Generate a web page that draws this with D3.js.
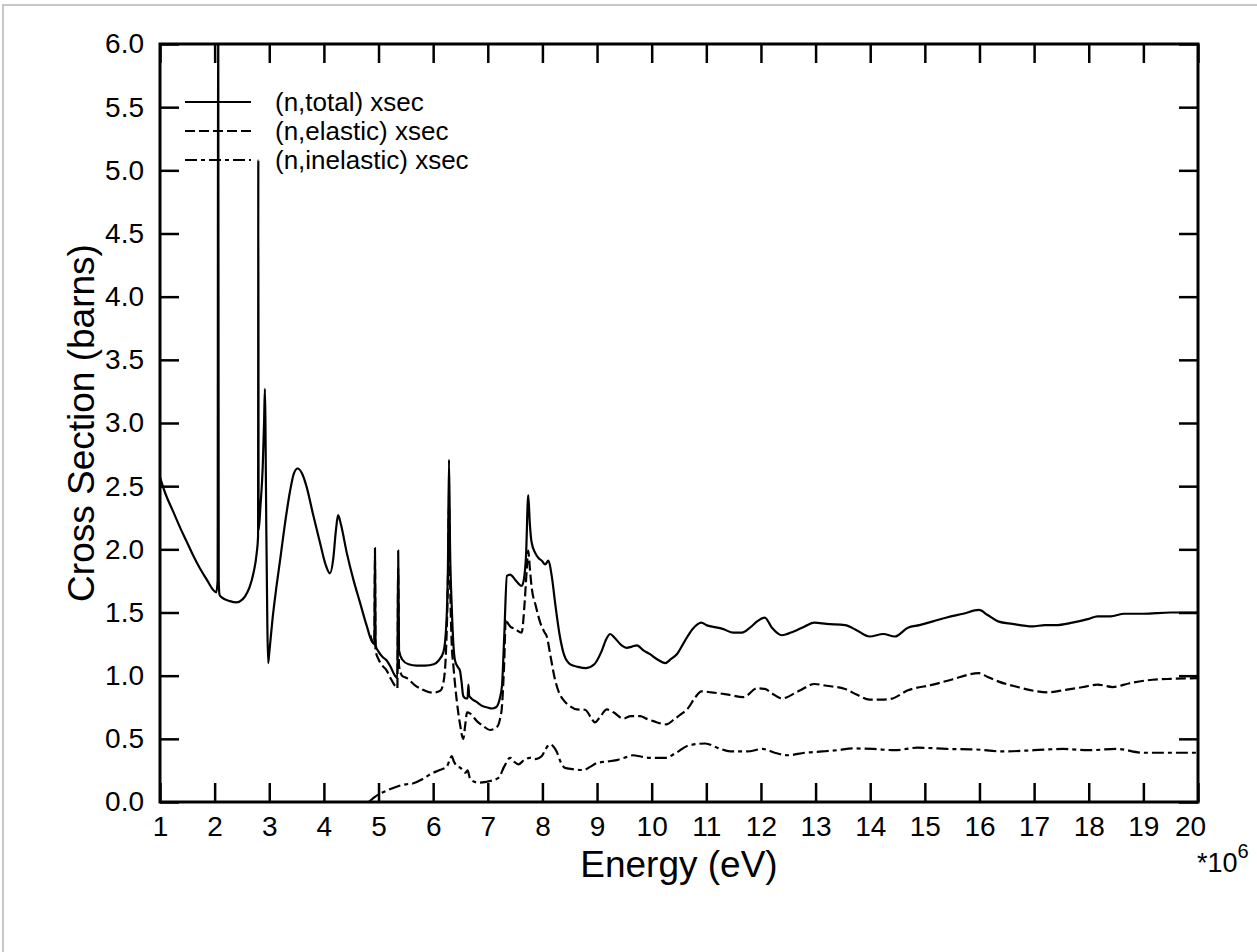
<!DOCTYPE html>
<html>
<head>
<meta charset="utf-8">
<script src="https://cdn.jsdelivr.net/npm/d3@7"></script>
<style>
  html, body { margin: 0; padding: 0; background: #fff; }
  svg { display: block; }
  text { font-family: "Liberation Sans", Arial, Helvetica, sans-serif; fill: #000; }
</style>
</head>
<body>
<svg id="chart" width="1257" height="952"></svg>
<script>
// ---- data (energy in units of 10^6 eV, cross section in barns) ----
const xTicks = [1,2,3,4,5,6,7,8,9,10,11,12,13,14,15,16,17,18,19,20];
const yTicks = [0,0.5,1,1.5,2,2.5,3,3.5,4,4.5,5,5.5,6];
const seriesNames = ["(n,total) xsec", "(n,elastic) xsec", "(n,inelastic) xsec"];

const totalXS = [
 [1.00,2.57],[1.10,2.44],[1.24,2.30],[1.37,2.17],[1.49,2.06],[1.61,1.95],[1.73,1.85],[1.87,1.75],[1.97,1.68],
 [2.03,1.66],[2.055,1.75],[2.065,7.0],[2.075,1.75],[2.09,1.64],[2.13,1.62],[2.28,1.59],[2.40,1.58],[2.50,1.60],
 [2.56,1.63],[2.64,1.70],[2.71,1.81],[2.77,1.97],[2.795,2.10],[2.80,5.08],[2.805,2.15],[2.84,2.35],[2.88,2.65],
 [2.905,3.0],[2.92,3.27],[2.93,3.0],[2.945,2.2],[2.965,1.4],[2.98,1.10],[3.00,1.18],[3.06,1.45],[3.13,1.70],
 [3.20,1.92],[3.28,2.18],[3.38,2.46],[3.45,2.60],[3.52,2.64],[3.60,2.60],[3.68,2.50],[3.80,2.28],[3.93,2.05],
 [4.03,1.88],[4.11,1.81],[4.17,1.92],[4.22,2.15],[4.26,2.27],[4.31,2.20],[4.42,1.97],[4.54,1.76],[4.66,1.58],
 [4.78,1.40],[4.90,1.26],[4.925,1.26],[4.935,2.01],[4.945,1.24],[5.00,1.19],[5.07,1.15],[5.15,1.12],[5.22,1.07],
 [5.30,1.00],[5.345,0.98],[5.36,1.99],[5.375,1.20],[5.43,1.13],[5.55,1.09],[5.70,1.08],[5.85,1.08],[6.01,1.09],
 [6.10,1.12],[6.19,1.19],[6.24,1.40],[6.27,1.85],[6.29,2.71],[6.31,2.0],[6.34,1.55],[6.37,1.25],[6.40,1.12],
 [6.45,1.07],[6.49,1.04],[6.52,0.95],[6.55,0.84],[6.60,0.82],[6.63,0.82],[6.645,0.93],[6.66,0.84],[6.70,0.82],
 [6.80,0.79],[6.90,0.76],[6.98,0.75],[7.08,0.74],[7.15,0.75],[7.22,0.82],[7.26,0.92],[7.30,1.30],[7.35,1.79],
 [7.41,1.80],[7.50,1.76],[7.58,1.72],[7.62,1.71],[7.66,1.76],[7.70,1.95],[7.74,2.43],[7.77,2.20],[7.80,2.06],
 [7.87,1.97],[7.93,1.93],[7.99,1.91],[8.05,1.88],[8.11,1.91],[8.17,1.79],[8.24,1.55],[8.32,1.31],[8.40,1.16],
 [8.51,1.09],[8.65,1.07],[8.80,1.06],[8.95,1.09],[9.08,1.19],[9.17,1.29],[9.24,1.33],[9.32,1.30],[9.45,1.24],
 [9.54,1.22],[9.64,1.23],[9.73,1.24],[9.85,1.20],[9.97,1.17],[10.10,1.13],[10.25,1.10],[10.35,1.13],[10.46,1.17],
 [10.60,1.27],[10.75,1.37],[10.91,1.42],[11.00,1.40],[11.09,1.39],[11.30,1.37],[11.50,1.34],[11.65,1.34],
 [11.80,1.38],[11.93,1.43],[12.07,1.46],[12.20,1.38],[12.38,1.32],[12.60,1.35],[12.80,1.39],[12.98,1.42],
 [13.20,1.41],[13.54,1.40],[13.75,1.36],[13.99,1.31],[14.24,1.33],[14.45,1.31],[14.69,1.38],[14.90,1.40],
 [15.15,1.43],[15.40,1.46],[15.70,1.49],[15.99,1.52],[16.15,1.48],[16.34,1.43],[16.60,1.41],[16.97,1.39],
 [17.20,1.40],[17.39,1.40],[17.70,1.42],[18.00,1.45],[18.16,1.47],[18.40,1.47],[18.65,1.49],[19.00,1.49],
 [19.50,1.50],[20.00,1.50]
];

const elasticXS = [
 [4.85,1.32],[4.90,1.26],[4.925,1.25],[4.935,1.95],[4.945,1.20],[5.00,1.13],[5.07,1.08],[5.15,1.04],[5.22,0.98],
 [5.30,0.92],[5.345,0.90],[5.36,1.85],[5.375,1.08],[5.43,1.00],[5.52,0.98],[5.65,0.93],[5.80,0.89],[6.00,0.865],
 [6.13,0.88],[6.19,0.95],[6.24,1.25],[6.27,1.75],[6.29,2.35],[6.31,1.75],[6.34,1.25],[6.37,1.08],[6.43,0.81],
 [6.49,0.62],[6.55,0.50],[6.59,0.62],[6.62,0.71],[6.68,0.70],[6.80,0.64],[6.92,0.60],[7.04,0.57],[7.16,0.59],
 [7.22,0.65],[7.26,0.76],[7.30,1.10],[7.33,1.45],[7.36,1.42],[7.41,1.39],[7.50,1.37],[7.62,1.34],[7.67,1.55],
 [7.71,1.82],[7.74,1.99],[7.77,1.85],[7.80,1.71],[7.88,1.55],[7.96,1.42],[8.03,1.35],[8.08,1.31],[8.15,1.15],
 [8.23,0.97],[8.30,0.87],[8.38,0.81],[8.50,0.76],[8.63,0.733],[8.78,0.73],[8.90,0.66],[8.96,0.63],[9.05,0.67],
 [9.18,0.733],[9.30,0.71],[9.48,0.66],[9.62,0.68],[9.79,0.68],[9.90,0.66],[10.03,0.64],[10.27,0.615],[10.40,0.65],
 [10.52,0.69],[10.67,0.745],[10.80,0.83],[10.91,0.876],[11.09,0.868],[11.40,0.85],[11.68,0.83],[11.93,0.90],
 [12.07,0.895],[12.20,0.86],[12.38,0.82],[12.70,0.88],[12.98,0.934],[13.20,0.92],[13.54,0.895],[13.75,0.85],
 [13.99,0.81],[14.20,0.81],[14.38,0.816],[14.69,0.884],[15.15,0.929],[15.50,0.97],[15.99,1.02],[16.15,0.99],
 [16.34,0.955],[16.70,0.91],[17.00,0.88],[17.25,0.868],[17.60,0.89],[17.90,0.91],[18.16,0.929],[18.44,0.91],
 [18.75,0.94],[19.07,0.963],[19.50,0.975],[20.00,0.98]
];

const inelasticXS = [
 [4.82,0.0],[5.00,0.06],[5.15,0.09],[5.37,0.127],[5.50,0.14],[5.64,0.148],[5.80,0.18],[5.95,0.22],[6.10,0.25],
 [6.25,0.28],[6.30,0.33],[6.34,0.364],[6.38,0.32],[6.43,0.285],[6.50,0.27],[6.59,0.232],[6.63,0.25],[6.68,0.18],
 [6.83,0.153],[7.04,0.166],[7.20,0.193],[7.30,0.28],[7.41,0.35],[7.48,0.32],[7.56,0.298],[7.66,0.33],[7.77,0.35],
 [7.88,0.34],[7.99,0.364],[8.06,0.42],[8.14,0.456],[8.20,0.44],[8.26,0.40],[8.33,0.32],[8.41,0.27],[8.55,0.26],
 [8.75,0.253],[8.88,0.28],[9.00,0.31],[9.18,0.32],[9.36,0.332],[9.50,0.35],[9.66,0.37],[9.80,0.36],[9.97,0.35],
 [10.25,0.35],[10.45,0.39],[10.67,0.447],[10.98,0.463],[11.20,0.43],[11.44,0.40],[11.75,0.40],[12.03,0.42],
 [12.25,0.39],[12.49,0.37],[12.80,0.39],[13.12,0.40],[13.40,0.41],[13.68,0.424],[14.05,0.42],[14.45,0.41],
 [14.87,0.43],[15.40,0.42],[15.92,0.416],[16.41,0.40],[17.00,0.41],[17.53,0.42],[18.00,0.41],[18.51,0.42],
 [19.00,0.39],[19.50,0.39],[20.00,0.39]
];

// ---- layout ----
const svg = d3.select("#chart");
const L = 160, R = 1198, T = 44, B = 802;
const x = d3.scaleLinear().domain([1, 20]).range([L, R]);
const y = d3.scaleLinear().domain([0, 6]).range([B, T]);
const TICK = 19;
const FONT = 28;

// light outer frame
svg.append("rect").attr("x", 3).attr("y", 5).attr("width", 1270).attr("height", 960)
  .attr("fill", "none").attr("stroke", "#c8c8c8").attr("stroke-width", 2);

svg.append("defs").append("clipPath").attr("id", "plotclip")
  .append("rect").attr("x", L).attr("y", T).attr("width", R - L).attr("height", B - T);

// axes (ticks inward)
const gB = svg.append("g").attr("transform", `translate(0,${B})`)
  .call(d3.axisBottom(x).tickValues(xTicks).tickFormat(d3.format("d")).tickSize(-TICK).tickPadding(14));
const gT = svg.append("g").attr("transform", `translate(0,${T})`)
  .call(d3.axisTop(x).tickValues(xTicks).tickFormat("").tickSize(-TICK));
const gL = svg.append("g").attr("transform", `translate(${L},0)`)
  .call(d3.axisLeft(y).tickValues(yTicks).tickFormat(d3.format(".1f")).tickSize(-TICK).tickPadding(16));
const gR = svg.append("g").attr("transform", `translate(${R},0)`)
  .call(d3.axisRight(y).tickValues(yTicks).tickFormat("").tickSize(-TICK));

[gB, gT, gL, gR].forEach(g => {
  g.select(".domain").remove();
  g.selectAll(".tick line").attr("stroke", "#000").attr("stroke-width", 2.5);
  g.selectAll(".tick text").attr("font-size", FONT)
    .attr("font-family", '"Liberation Sans", Arial, sans-serif').attr("fill", "#000");
});
gB.selectAll(".tick text").filter(d => d === 20).attr("dx", -8);

// curves
const line = d3.line().curve(d3.curveMonotoneX).x(d => x(d[0])).y(d => y(d[1]));
const plot = svg.append("g").attr("clip-path", "url(#plotclip)");
const styles = [
  {data: totalXS, dash: null},
  {data: elasticXS, dash: "10,4"},
  {data: inelasticXS, dash: "12,4,4,4"}
];
styles.forEach(s => {
  plot.append("path").datum(s.data).attr("d", line)
    .attr("fill", "none").attr("stroke", "#000").attr("stroke-width", 2.2)
    .attr("stroke-linejoin", "round")
    .attr("stroke-dasharray", s.dash);
});

// frame
svg.append("rect").attr("x", L).attr("y", T).attr("width", R - L).attr("height", B - T)
  .attr("fill", "none").attr("stroke", "#000").attr("stroke-width", 3);

// legend
const legY = [102, 131, 160];
seriesNames.forEach((name, i) => {
  svg.append("line").attr("x1", 185).attr("x2", 251).attr("y1", legY[i]).attr("y2", legY[i])
    .attr("stroke", "#000").attr("stroke-width", 2).attr("stroke-dasharray", styles[i].dash);
  svg.append("text").attr("x", 275).attr("y", legY[i] + 9).attr("font-size", 26).text(name);
});

// axis titles
svg.append("text").attr("x", (L + R) / 2).attr("y", 877).attr("text-anchor", "middle")
  .attr("font-size", 37).text("Energy (eV)");
svg.append("text").attr("transform", `translate(94,${(T + B) / 2}) rotate(-90)`)
  .attr("text-anchor", "middle").attr("font-size", 37).text("Cross Section (barns)");

// multiplier
const mult = svg.append("text").attr("x", 1197).attr("y", 872).attr("font-size", 27);
mult.append("tspan").text("*10");
mult.append("tspan").attr("font-size", 20).attr("dy", -14).text("6");
</script>
</body>
</html>
